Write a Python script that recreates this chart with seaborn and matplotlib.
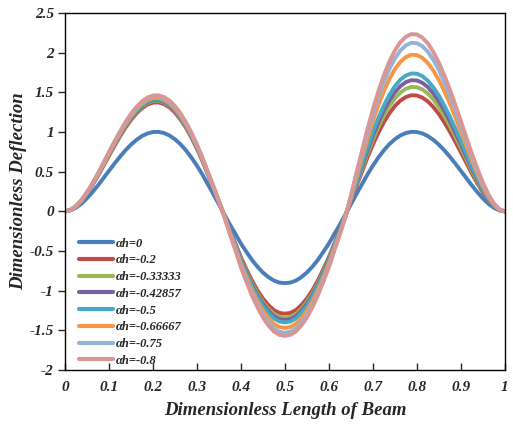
import numpy as np
import pandas as pd
import matplotlib
matplotlib.use("Agg")
import matplotlib.pyplot as plt
import seaborn as sns

x = [round(0.0125 * i, 4) for i in range(81)]

labels = ["αh=0", "αh=-0.2", "αh=-0.33333", "αh=-0.42857", "αh=-0.5",
          "αh=-0.66667", "αh=-0.75", "αh=-0.8"]
colors = ["#4A7EBB", "#BE4B48", "#98B954", "#7D60A0", "#46AAC5",
          "#F79646", "#95B3D7", "#D99694"]

y_a0 = [0, 0.012, 0.045, 0.097, 0.164, 0.242, 0.327, 0.419, 0.511, 0.602, 0.689, 0.769, 0.841, 0.901, 0.949,
        0.982, 1.000, 1.002, 0.987, 0.956, 0.909, 0.846, 0.769, 0.678, 0.576, 0.463, 0.339, 0.215, 0.088,
        -0.040, -0.167, -0.284, -0.406, -0.511, -0.611, -0.698, -0.771, -0.829, -0.873, -0.898, -0.905,
        -0.898, -0.873, -0.829, -0.771, -0.698, -0.611, -0.511, -0.406, -0.284, -0.167, -0.040,
        0.088, 0.215, 0.339, 0.463, 0.576, 0.678, 0.769, 0.846, 0.909, 0.956, 0.987, 1.002, 1.000, 0.982,
        0.949, 0.901, 0.841, 0.769, 0.689, 0.602, 0.511, 0.419, 0.327, 0.242, 0.164, 0.097, 0.045, 0.012, 0]
y_a02 = [0, 0.016, 0.062, 0.133, 0.225, 0.332, 0.448, 0.574, 0.700, 0.825, 0.944, 1.054, 1.152, 1.234, 1.300,
         1.345, 1.370, 1.373, 1.352, 1.310, 1.245, 1.159, 1.054, 0.929, 0.789, 0.634, 0.464, 0.295, 0.121,
         -0.057, -0.239, -0.405, -0.579, -0.729, -0.871, -0.995, -1.099, -1.182, -1.245, -1.280, -1.290,
         -1.280, -1.245, -1.182, -1.099, -0.995, -0.871, -0.729, -0.579, -0.405, -0.239, -0.057,
         0.128, 0.314, 0.495, 0.676, 0.841, 0.990, 1.123, 1.235, 1.327, 1.396, 1.441, 1.463, 1.460, 1.434,
         1.386, 1.315, 1.228, 1.123, 1.006, 0.879, 0.746, 0.612, 0.477, 0.353, 0.239, 0.142, 0.066, 0.018, 0]
y_a033 = [0, 0.017, 0.063, 0.135, 0.228, 0.336, 0.455, 0.582, 0.710, 0.837, 0.958, 1.069, 1.169, 1.252, 1.319,
          1.365, 1.390, 1.393, 1.372, 1.329, 1.264, 1.176, 1.069, 0.942, 0.801, 0.644, 0.471, 0.299, 0.122,
          -0.059, -0.248, -0.421, -0.602, -0.757, -0.905, -1.033, -1.142, -1.227, -1.293, -1.329, -1.340,
          -1.329, -1.293, -1.227, -1.142, -1.033, -0.905, -0.757, -0.602, -0.421, -0.248, -0.059,
          0.138, 0.336, 0.531, 0.725, 0.901, 1.061, 1.203, 1.324, 1.423, 1.496, 1.545, 1.568, 1.565, 1.537,
          1.485, 1.410, 1.316, 1.203, 1.078, 0.942, 0.800, 0.656, 0.512, 0.379, 0.257, 0.152, 0.070, 0.019, 0]
y_a043 = [0, 0.017, 0.063, 0.136, 0.230, 0.339, 0.458, 0.587, 0.715, 0.843, 0.965, 1.077, 1.177, 1.261, 1.329,
          1.375, 1.400, 1.403, 1.382, 1.338, 1.273, 1.184, 1.077, 0.949, 0.806, 0.648, 0.475, 0.301, 0.123,
          -0.060, -0.253, -0.430, -0.615, -0.774, -0.925, -1.056, -1.167, -1.255, -1.322, -1.359, -1.370,
          -1.359, -1.322, -1.255, -1.167, -1.056, -0.925, -0.774, -0.615, -0.430, -0.253, -0.060,
          0.145, 0.355, 0.559, 0.764, 0.950, 1.119, 1.269, 1.396, 1.500, 1.577, 1.629, 1.653, 1.650, 1.620,
          1.566, 1.487, 1.388, 1.269, 1.137, 0.993, 0.843, 0.691, 0.540, 0.399, 0.271, 0.160, 0.074, 0.020, 0]
y_a05 = [0, 0.017, 0.063, 0.137, 0.231, 0.341, 0.461, 0.591, 0.721, 0.849, 0.971, 1.084, 1.186, 1.270, 1.338,
         1.385, 1.410, 1.413, 1.392, 1.348, 1.282, 1.193, 1.084, 0.956, 0.812, 0.653, 0.478, 0.303, 0.124,
         -0.062, -0.259, -0.440, -0.629, -0.791, -0.945, -1.079, -1.193, -1.282, -1.351, -1.389, -1.400,
         -1.389, -1.351, -1.282, -1.193, -1.079, -0.945, -0.791, -0.629, -0.440, -0.259, -0.062,
         0.153, 0.373, 0.588, 0.803, 0.999, 1.176, 1.334, 1.468, 1.577, 1.659, 1.712, 1.738, 1.735, 1.704,
         1.647, 1.563, 1.459, 1.334, 1.195, 1.044, 0.887, 0.727, 0.567, 0.420, 0.285, 0.168, 0.078, 0.021, 0]
y_a067 = [0, 0.017, 0.064, 0.139, 0.235, 0.346, 0.468, 0.599, 0.731, 0.861, 0.985, 1.100, 1.203, 1.288, 1.357,
          1.404, 1.430, 1.433, 1.411, 1.367, 1.300, 1.210, 1.100, 0.970, 0.824, 0.662, 0.485, 0.307, 0.126,
          -0.065, -0.272, -0.462, -0.660, -0.831, -0.992, -1.133, -1.252, -1.347, -1.419, -1.458, -1.470,
          -1.458, -1.419, -1.347, -1.252, -1.133, -0.992, -0.831, -0.660, -0.462, -0.272, -0.065,
          0.173, 0.424, 0.668, 0.912, 1.135, 1.336, 1.515, 1.667, 1.791, 1.883, 1.944, 1.974, 1.970, 1.935,
          1.870, 1.775, 1.657, 1.515, 1.357, 1.186, 1.007, 0.825, 0.644, 0.477, 0.323, 0.191, 0.089, 0.024, 0]
y_a075 = [0, 0.017, 0.065, 0.141, 0.238, 0.351, 0.474, 0.608, 0.741, 0.873, 0.999, 1.115, 1.219, 1.306, 1.376,
          1.424, 1.450, 1.453, 1.431, 1.386, 1.318, 1.227, 1.115, 0.983, 0.835, 0.671, 0.492, 0.312, 0.128,
          -0.067, -0.283, -0.480, -0.687, -0.864, -1.033, -1.180, -1.304, -1.401, -1.476, -1.518, -1.530,
          -1.518, -1.476, -1.401, -1.304, -1.180, -1.033, -0.864, -0.687, -0.480, -0.283, -0.067,
          0.187, 0.456, 0.719, 0.982, 1.221, 1.437, 1.630, 1.794, 1.927, 2.027, 2.092, 2.124, 2.120, 2.082,
          2.012, 1.910, 1.783, 1.630, 1.461, 1.276, 1.083, 0.888, 0.693, 0.513, 0.348, 0.206, 0.095, 0.025, 0]
y_a08 = [0, 0.018, 0.066, 0.142, 0.239, 0.353, 0.477, 0.612, 0.746, 0.879, 1.006, 1.123, 1.228, 1.315, 1.386,
         1.434, 1.460, 1.463, 1.441, 1.396, 1.327, 1.235, 1.123, 0.990, 0.841, 0.676, 0.495, 0.314, 0.128,
         -0.069, -0.290, -0.493, -0.705, -0.887, -1.060, -1.210, -1.338, -1.438, -1.515, -1.557, -1.570,
         -1.557, -1.515, -1.438, -1.338, -1.210, -1.060, -0.887, -0.705, -0.493, -0.290, -0.069,
         0.196, 0.479, 0.756, 1.032, 1.284, 1.512, 1.715, 1.887, 2.027, 2.132, 2.201, 2.234, 2.230, 2.190,
         2.116, 2.009, 1.875, 1.715, 1.536, 1.342, 1.140, 0.934, 0.729, 0.540, 0.366, 0.216, 0.100, 0.027, 0]

series = [y_a0, y_a02, y_a033, y_a043, y_a05, y_a067, y_a075, y_a08]

xticks = [0, 0.1, 0.2, 0.3, 0.4, 0.5, 0.6, 0.7, 0.8, 0.9, 1]
xticklabels = ["0", "0.1", "0.2", "0.3", "0.4", "0.5", "0.6", "0.7", "0.8", "0.9", "1"]
yticks = [-2, -1.5, -1, -0.5, 0, 0.5, 1, 1.5, 2, 2.5]
yticklabels = ["-2", "-1.5", "-1", "-0.5", "0", "0.5", "1", "1.5", "2", "2.5"]

frames = []
for lab, ys in zip(labels, series):
    frames.append(pd.DataFrame({"x": x, "y": ys, "series": lab}))
df = pd.concat(frames, ignore_index=True)

sns.set_style("white")
plt.rcParams["font.family"] = ["Liberation Serif", "DejaVu Serif"]

fig = plt.figure(figsize=(5.13, 4.29), dpi=100)
ax = fig.add_axes([0.1267, 0.1375, 0.8573, 0.8322])

sns.lineplot(data=df, x="x", y="y", hue="series", hue_order=labels,
             palette=colors, linewidth=2.8, ax=ax, sort=False, estimator=None,
             solid_joinstyle="round", solid_capstyle="round")

ax.set_xlim(0, 1)
ax.set_ylim(-2, 2.5)
ax.set_xticks(xticks)
ax.set_xticklabels(xticklabels, fontsize=11, fontweight="bold", fontstyle="italic")
ax.set_yticks(yticks)
ax.set_yticklabels(yticklabels, fontsize=11, fontweight="bold", fontstyle="italic")
ax.tick_params(axis="x", direction="in", length=5, width=1, pad=8, bottom=True)
ax.tick_params(axis="y", direction="out", length=5, width=1, pad=3, left=True)

for sp in ax.spines.values():
    sp.set_color("black")
    sp.set_linewidth(1.0)
    sp.set_visible(True)

ax.set_xlabel("Dimensionless Length of Beam", fontsize=13.5, fontweight="bold",
              fontstyle="italic", labelpad=6)
ax.set_ylabel("Dimensionless Deflection", fontsize=13.5, fontweight="bold",
              fontstyle="italic", labelpad=2)

leg = ax.legend(loc="upper left", bbox_to_anchor=(0.02, 0.385), frameon=False,
                handlelength=2.7, labelspacing=0.38, handletextpad=0.25,
                borderaxespad=0.0, prop={"size": 9, "weight": "bold", "style": "italic"})
for line in leg.get_lines():
    line.set_linewidth(3.0)

fig.savefig("out.png", dpi=100)
